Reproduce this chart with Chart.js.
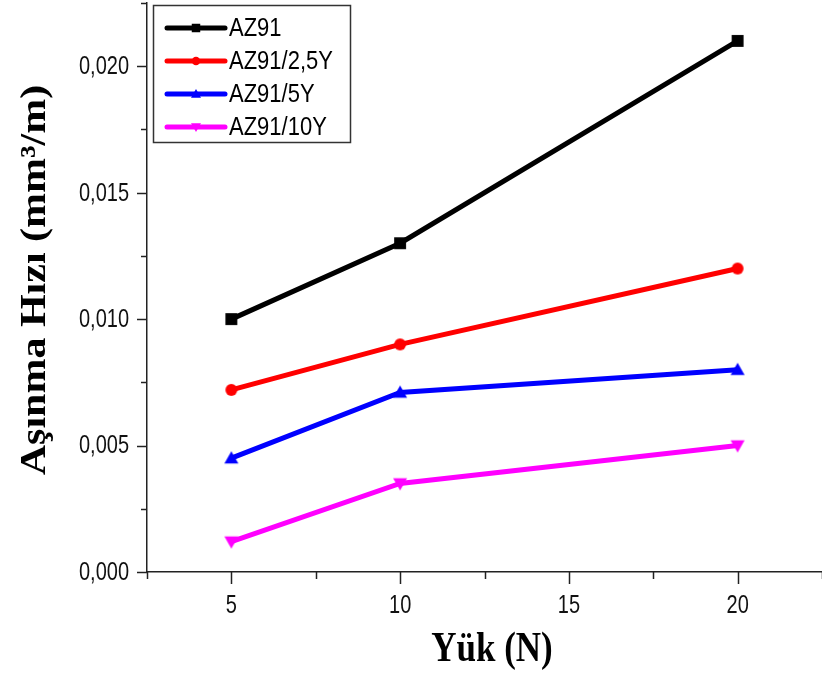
<!DOCTYPE html>
<html>
<head>
<meta charset="utf-8">
<script src="https://cdn.jsdelivr.net/npm/chart.js@4.4.1/dist/chart.umd.min.js"></script>
<style>
html,body{margin:0;padding:0;background:#fff;}
#wrap{width:822px;height:677px;position:relative;}
</style>
</head>
<body>
<div id="wrap"><canvas id="c" width="822" height="677"></canvas></div>
<script>
const loads = [5, 10, 20];
const seriesNames = ['AZ91', 'AZ91/2,5Y', 'AZ91/5Y', 'AZ91/10Y'];
const az91 = [0.0100, 0.0130, 0.0210];
const az91_25y = [0.0072, 0.0090, 0.0120];
const az91_5y = [0.0045, 0.0071, 0.0080];
const az91_10y = [0.0012, 0.0035, 0.0050];
const xTickLabels = [5, 10, 15, 20];
const yTickValues = [0, 0.005, 0.010, 0.015, 0.020];
const xMinorTicks = [2.5, 7.5, 12.5, 17.5, 22.5];
const yMinorTicks = [0.0025, 0.0075, 0.0125, 0.0175, 0.0225];
const xTitle = 'Yük (N)';
const yTitle = 'Aşınma Hızı (mm³/m)';

const colors = ['#000000', '#ff0000', '#0000ff', '#ff00ff'];
const shapes = ['rect', 'circle', 'triangle', 'triangleDown'];
const values = [az91, az91_25y, az91_5y, az91_10y];
const SANS = '"Liberation Sans", Arial, sans-serif';
const SERIF = '"Liberation Serif", "Times New Roman", serif';

function makeMarker(shape, color, s) {
  const c = document.createElement('canvas');
  c.width = s * 2 + 2; c.height = s * 2 + 2;
  const g = c.getContext('2d');
  g.fillStyle = color;
  const m = s + 1;
  g.beginPath();
  if (shape === 'rect') g.rect(m - s * 0.85, m - s * 0.85, s * 1.7, s * 1.7);
  else if (shape === 'circle') g.arc(m, m, s * 0.85, 0, Math.PI * 2);
  else if (shape === 'triangle') { g.moveTo(m, m - s); g.lineTo(m + s, m + s * 0.75); g.lineTo(m - s, m + s * 0.75); g.closePath(); }
  else { g.moveTo(m, m + s); g.lineTo(m + s, m - s * 0.75); g.lineTo(m - s, m - s * 0.75); g.closePath(); }
  g.fill();
  return c;
}

const datasets = seriesNames.map((n, i) => ({
  label: n,
  data: loads.map((x, j) => ({ x: x, y: values[i][j] })),
  borderColor: colors[i],
  backgroundColor: colors[i],
  borderWidth: 5,
  pointStyle: makeMarker(shapes[i], colors[i], 7),
  pointRadius: 7,
  pointHoverRadius: 7,
  tension: 0,
  fill: false,
  clip: false
}));

function stretchText(ctx, text, x, y, sx, sy) {
  ctx.save();
  ctx.translate(x, y);
  ctx.scale(sx, sy);
  ctx.fillText(text, 0, 0);
  ctx.restore();
}

const decor = {
  id: 'decor',
  afterDraw(chart) {
    const ctx = chart.ctx;
    const xs = chart.scales.x, ys = chart.scales.y;
    const ca = chart.chartArea;
    ctx.save();
    ctx.strokeStyle = '#222';
    ctx.lineWidth = 1.5;
    xTickLabels.forEach(v => {
      const p = Math.round(xs.getPixelForValue(v)) + 0.5;
      ctx.beginPath(); ctx.moveTo(p, ca.bottom); ctx.lineTo(p, ca.bottom + 12); ctx.stroke();
    });
    xMinorTicks.forEach(v => {
      const p = Math.round(xs.getPixelForValue(v)) + 0.5;
      ctx.beginPath(); ctx.moveTo(p, ca.bottom); ctx.lineTo(p, ca.bottom + 7); ctx.stroke();
    });
    yTickValues.forEach(v => {
      const p = Math.round(ys.getPixelForValue(v)) + 0.5;
      ctx.beginPath(); ctx.moveTo(ca.left, p); ctx.lineTo(ca.left - 10, p); ctx.stroke();
    });
    yMinorTicks.forEach(v => {
      const p = Math.round(ys.getPixelForValue(v)) + 0.5;
      ctx.beginPath(); ctx.moveTo(ca.left, p); ctx.lineTo(ca.left - 6, p); ctx.stroke();
    });
    ctx.fillStyle = '#111';
    ctx.font = '20px ' + SANS;
    ctx.textBaseline = 'middle';
    ctx.textAlign = 'right';
    yTickValues.forEach(v => {
      stretchText(ctx, v.toFixed(3).replace('.', ','), 129, ys.getPixelForValue(v) + 1, 1, 1.25);
    });
    ctx.textAlign = 'center';
    xTickLabels.forEach(v => {
      stretchText(ctx, String(v), xs.getPixelForValue(v), 606, 1, 1.25);
    });
    ctx.fillStyle = '#000';
    ctx.font = 'bold 35px ' + SERIF;
    ctx.textAlign = 'center';
    ctx.textBaseline = 'alphabetic';
    stretchText(ctx, xTitle, 492, 661, 1, 1.2);
    ctx.save();
    ctx.translate(45, 280);
    ctx.rotate(-Math.PI / 2);
    ctx.scale(1.2, 1);
    ctx.font = 'bold 35px ' + SERIF;
    ctx.fillText(yTitle, 0, 0);
    ctx.restore();
    ctx.strokeStyle = '#333';
    ctx.lineWidth = 1.5;
    ctx.strokeRect(153.5, 5.5, 197, 137);
    ctx.font = '22px ' + SANS;
    ctx.textAlign = 'left';
    ctx.textBaseline = 'middle';
    const rows = [28, 61, 94, 127];
    chart.data.datasets.forEach((ds, i) => {
      const y = rows[i];
      ctx.strokeStyle = ds.borderColor;
      ctx.lineWidth = 5;
      ctx.lineCap = 'round';
      ctx.beginPath(); ctx.moveTo(167, y); ctx.lineTo(225, y); ctx.stroke();
      const mk = makeMarker(shapes[i], ds.borderColor, 5);
      ctx.drawImage(mk, 196 - mk.width / 2, y - mk.height / 2);
      ctx.fillStyle = '#000';
      stretchText(ctx, ds.label, 229, y + 1, 1, 1.15);
    });
    ctx.restore();
  }
};

new Chart(document.getElementById('c'), {
  type: 'line',
  data: { datasets: datasets },
  options: {
    responsive: false,
    animation: false,
    devicePixelRatio: 1,
    layout: { autoPadding: false, padding: { top: 3, right: 0, left: 0, bottom: 0 } },
    plugins: { legend: { display: false }, tooltip: { enabled: false } },
    scales: {
      x: {
        type: 'linear', min: 2.5, max: 22.5,
        afterBuildTicks: s => { s.ticks = xTickLabels.map(v => ({ value: v })); },
        afterFit: s => { s.height = 105; s.paddingLeft = 0; s.paddingRight = 0; },
        grid: { display: true, drawOnChartArea: false, drawTicks: false },
        border: { display: true, color: '#222', width: 1.5 },
        ticks: { display: false }
      },
      y: {
        type: 'linear', min: 0, max: 0.0225,
        afterBuildTicks: s => { s.ticks = yTickValues.map(v => ({ value: v })); },
        afterFit: s => { s.width = 147; s.paddingTop = 0; s.paddingBottom = 0; },
        grid: { display: true, drawOnChartArea: false, drawTicks: false },
        border: { display: true, color: '#222', width: 1.5 },
        ticks: { display: false }
      }
    }
  },
  plugins: [decor]
});
</script>
</body>
</html>
